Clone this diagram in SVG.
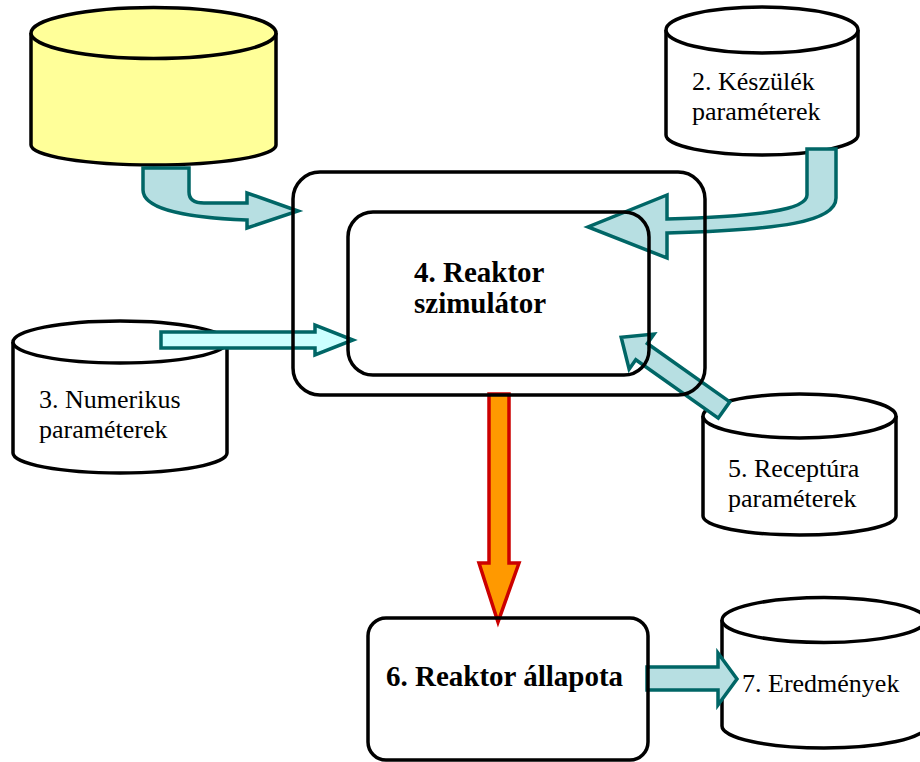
<svg xmlns="http://www.w3.org/2000/svg" width="920" height="762" viewBox="0 0 920 762">
<style>
.cyl{fill:#ffffff;stroke:#000;stroke-width:3.5}
.yel{fill:#ffff99}
.box{fill:none;stroke:#000;stroke-width:3.5}
.t{font-family:"Liberation Serif","Times New Roman",serif;font-size:26px;fill:#000}
.b{font-family:"Liberation Serif","Times New Roman",serif;font-size:29px;font-weight:bold;fill:#000}
.ar{fill:#b7dfe2;stroke:#006666;stroke-width:3.5;stroke-linejoin:miter}
.ac{fill:#ccffff;stroke:#006666;stroke-width:3.5}
.ao{fill:#ff9900;stroke:#cc0000;stroke-width:3.5}
</style>
<rect width="920" height="762" fill="#ffffff"/>
<g id="node1">
<path class="cyl yel" d="M31,33 L31,145 A122.5,20 0 0 0 276,145 L276,33"/>
<ellipse class="cyl yel" cx="153.5" cy="33" rx="122.5" ry="25.5"/>
</g>
<g id="node2">
<path class="cyl" d="M666,30 L666,135 A96,20 0 0 0 858,135 L858,30"/>
<ellipse class="cyl" cx="762" cy="30" rx="96" ry="23"/>
<text class="t" x="692" y="90">2. Készülék</text>
<text class="t" x="692" y="120">paraméterek</text>
</g>
<g id="node3">
<path class="cyl" d="M13,342 L13,453 A107,20 0 0 0 227,453 L227,342"/>
<ellipse class="cyl" cx="120" cy="342" rx="107" ry="21"/>
<text class="t" x="39" y="408">3. Numerikus</text>
<text class="t" x="39" y="438">paraméterek</text>
</g>
<g id="node5">
<path class="cyl" d="M703,416 L703,516 A96.5,19 0 0 0 896,516 L896,416"/>
<ellipse class="cyl" cx="799.5" cy="416" rx="96.5" ry="22"/>
<text class="t" x="728" y="477">5. Receptúra</text>
<text class="t" x="728" y="507">paraméterek</text>
</g>
<g id="node7">
<path class="cyl" d="M722,620 L722,726 A102,22 0 0 0 926,726 L926,620"/>
<ellipse class="cyl" cx="824" cy="620" rx="102" ry="22.5"/>
<text class="t" x="742" y="692">7. Eredmények</text>
</g>
<g id="connectors">
<path class="ar" d="M143,168 L189,168 L189,192 Q189,203 204,203 L247,203 L247,193 L298,211 L247,228 L247,220 C190,218 143,210 143,190 Z"/>
<path class="ar" d="M807,149 L836,149 L836,198 C836,222 780,230 667,233 L667,258 L588,227 L667,195 L667,219 C760,216 807,210 807,195 Z"/>
<path class="ac" d="M161,332 L315,332 L315,325 L353,340 L315,355 L315,348 L161,348 Z"/>
<path class="ar" transform="translate(724,410) rotate(215.3)" d="M0,-10 L101,-10 L101,-21.5 L126,0 L101,21.5 L101,10 L0,10 Z"/>
<path class="ao" d="M489,394 L509,394 L509,563 L519,563 L498,622 L479,563 L489,563 Z"/>
<path class="ar" d="M647,667 L718,667 L718,653 L737,679 L718,705 L718,690 L647,690 Z"/>
</g>
<g id="node4">
<rect class="box" x="293" y="172" width="412" height="223" rx="27"/>
<rect class="box" x="348" y="212" width="301" height="163" rx="25"/>
<text class="b" x="414" y="282">4. Reaktor</text>
<text class="b" x="414" y="313">szimulátor</text>
</g>
<g id="node6">
<rect class="box" x="368" y="618" width="280" height="142" rx="18"/>
<text class="b" x="386" y="686">6. Reaktor állapota</text>
</g>
</svg>
